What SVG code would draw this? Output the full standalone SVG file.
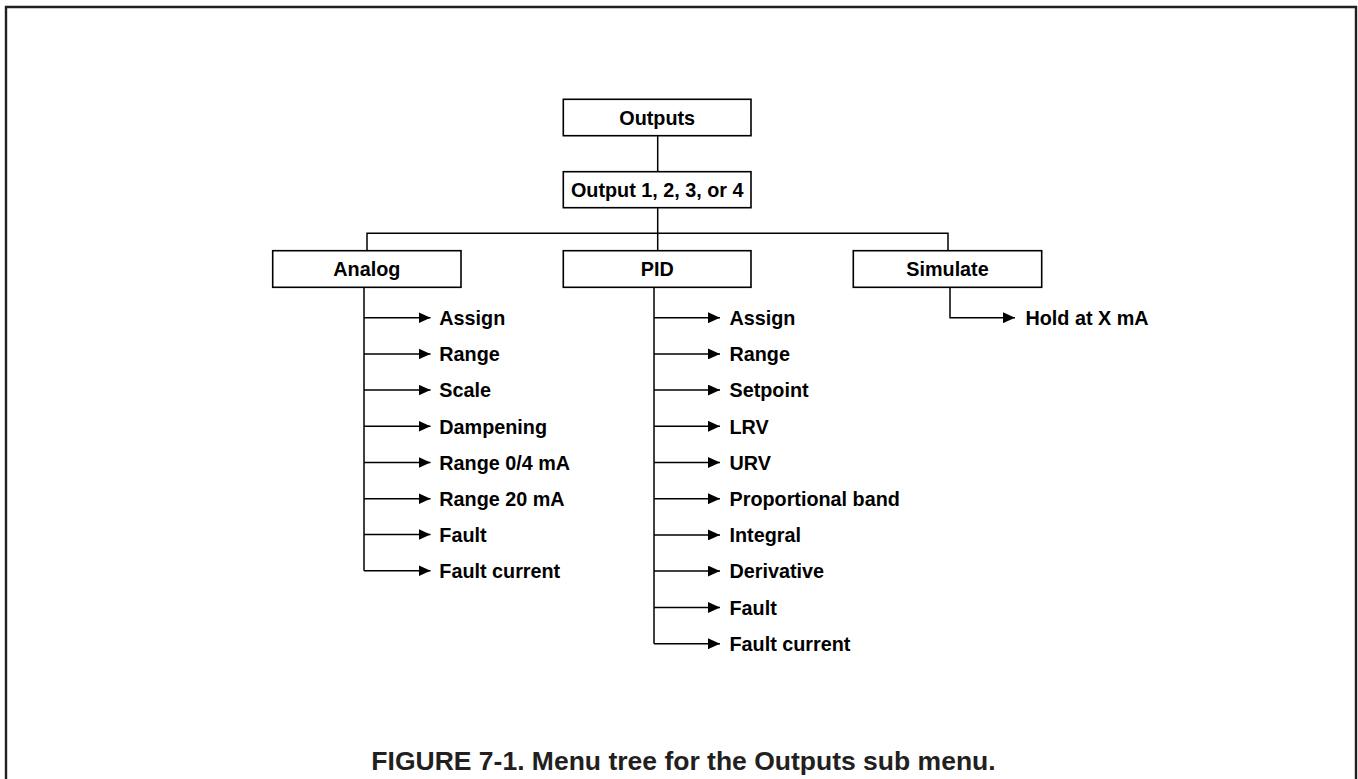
<svg xmlns="http://www.w3.org/2000/svg" width="1358" height="779" viewBox="0 0 1358 779">
<style>
.box{fill:#fff;stroke:#000;stroke-width:1.6}
.ln{fill:none;stroke:#000;stroke-width:1.5}
.nt{font-family:"Liberation Sans",Arial,sans-serif;font-weight:bold;font-size:19.8px;fill:#000;text-anchor:middle}
.it{font-family:"Liberation Sans",Arial,sans-serif;font-weight:bold;font-size:19.8px;fill:#000}
.cap{font-family:"Liberation Sans",Arial,sans-serif;font-weight:bold;font-size:26.5px;fill:#231f20;text-anchor:middle}
</style>
<defs>
<marker id="ah" markerWidth="12" markerHeight="11" refX="12" refY="5.5" orient="auto" markerUnits="userSpaceOnUse">
<path d="M0,0 L12,5.5 L0,11 Z" fill="#000"/>
</marker>
</defs>
<rect width="1358" height="779" fill="#fff"/>
<path d="M6,779 V7 H1356 V779" fill="none" stroke="#231f20" stroke-width="2.4"/>

<g id="connectors">
<path class="ln" d="M657.7,136 V172"/>
<path class="ln" d="M657.7,208 V251"/>
<path class="ln" d="M367,251 V233.3 H948 V251"/>
<!-- Analog -->
<path class="ln" d="M364,287 V570.7"/>
<path class="ln" d="M364,317.7 H430.5" marker-end="url(#ah)"/>
<path class="ln" d="M364,353.9 H430.5" marker-end="url(#ah)"/>
<path class="ln" d="M364,390.1 H430.5" marker-end="url(#ah)"/>
<path class="ln" d="M364,426.3 H430.5" marker-end="url(#ah)"/>
<path class="ln" d="M364,462.5 H430.5" marker-end="url(#ah)"/>
<path class="ln" d="M364,498.7 H430.5" marker-end="url(#ah)"/>
<path class="ln" d="M364,534.5 H430.5" marker-end="url(#ah)"/>
<path class="ln" d="M364,570.7 H430.5" marker-end="url(#ah)"/>
<!-- PID -->
<path class="ln" d="M654,287 V643.7"/>
<path class="ln" d="M654,317.7 H720" marker-end="url(#ah)"/>
<path class="ln" d="M654,353.9 H720" marker-end="url(#ah)"/>
<path class="ln" d="M654,390.1 H720" marker-end="url(#ah)"/>
<path class="ln" d="M654,426.3 H720" marker-end="url(#ah)"/>
<path class="ln" d="M654,462.5 H720" marker-end="url(#ah)"/>
<path class="ln" d="M654,498.7 H720" marker-end="url(#ah)"/>
<path class="ln" d="M654,534.9 H720" marker-end="url(#ah)"/>
<path class="ln" d="M654,571.1 H720" marker-end="url(#ah)"/>
<path class="ln" d="M654,607.5 H720" marker-end="url(#ah)"/>
<path class="ln" d="M654,643.7 H720" marker-end="url(#ah)"/>
<!-- Simulate -->
<path class="ln" d="M950,287 V317.7 H1015" marker-end="url(#ah)"/>
</g>

<g id="outputs"><rect class="box" x="563.3" y="99.3" width="187.7" height="36.4"/><text class="nt" x="657.2" y="124.8">Outputs</text></g>
<g id="output-n"><rect class="box" x="563.3" y="171.7" width="187.7" height="36"/><text class="nt" x="657.2" y="197.2">Output 1, 2, 3, or 4</text></g>
<g id="analog"><rect class="box" x="272.7" y="250.7" width="188.3" height="36.6"/><text class="nt" x="366.8" y="276.2">Analog</text></g>
<g id="pid"><rect class="box" x="563.3" y="250.7" width="187.7" height="36.6"/><text class="nt" x="657.2" y="276.2">PID</text></g>
<g id="simulate"><rect class="box" x="853.3" y="250.7" width="188.4" height="36.6"/><text class="nt" x="947.5" y="276.2">Simulate</text></g>

<g id="analog-items">
<text class="it" x="439.3" y="324.9">Assign</text>
<text class="it" x="439.3" y="361.1">Range</text>
<text class="it" x="439.3" y="397.3">Scale</text>
<text class="it" x="439.3" y="433.5">Dampening</text>
<text class="it" x="439.3" y="469.7">Range 0/4 mA</text>
<text class="it" x="439.3" y="505.9">Range 20 mA</text>
<text class="it" x="439.3" y="541.7">Fault</text>
<text class="it" x="439.3" y="577.9">Fault current</text>
</g>
<g id="pid-items">
<text class="it" x="729.5" y="324.9">Assign</text>
<text class="it" x="729.5" y="361.1">Range</text>
<text class="it" x="729.5" y="397.3">Setpoint</text>
<text class="it" x="729.5" y="433.5">LRV</text>
<text class="it" x="729.5" y="469.7">URV</text>
<text class="it" x="729.5" y="505.9">Proportional band</text>
<text class="it" x="729.5" y="542.1">Integral</text>
<text class="it" x="729.5" y="578.3">Derivative</text>
<text class="it" x="729.5" y="614.7">Fault</text>
<text class="it" x="729.5" y="650.9">Fault current</text>
</g>
<g id="simulate-items">
<text class="it" x="1025.5" y="324.9">Hold at X mA</text>
</g>

<text class="cap" x="683.5" y="770">FIGURE 7-1. Menu tree for the Outputs sub menu.</text>
</svg>
